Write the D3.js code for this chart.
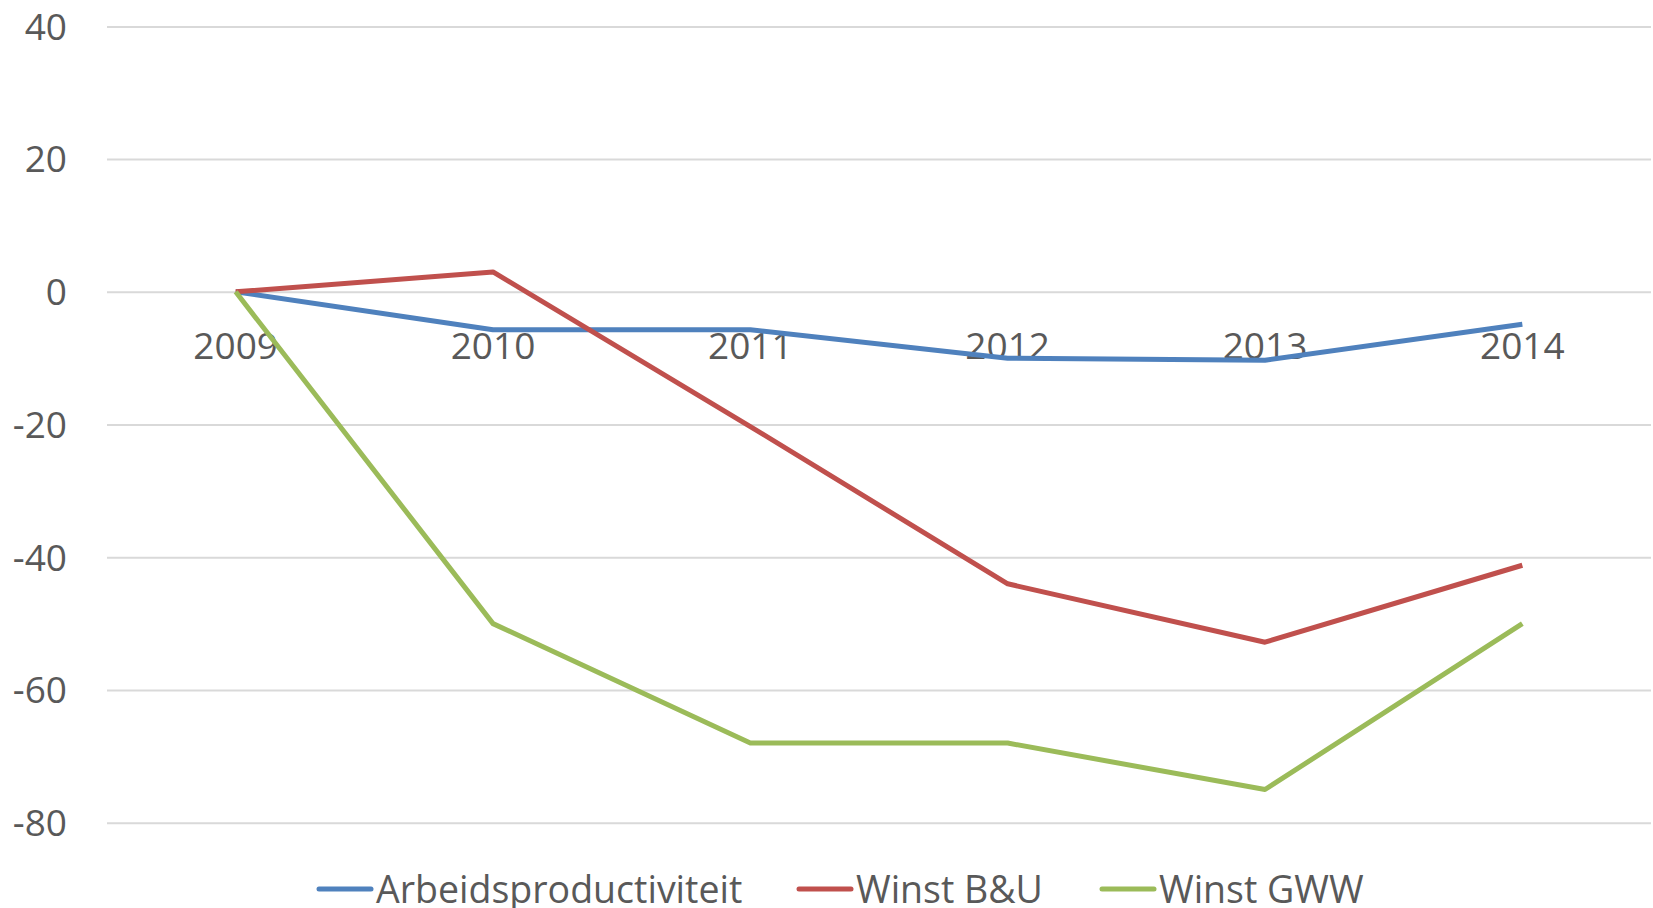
<!DOCTYPE html>
<html>
<head>
  <meta charset="utf-8">
  <title>Arbeidsproductiviteit en winst</title>
  <script src="https://d3js.org/d3.v7.min.js"></script>
  <style>
    body { margin: 0; background: #fff; }
    svg text { font-family: "Open Sans", "Liberation Sans", sans-serif; fill: #595959; }
    .grid line { stroke: #d9d9d9; stroke-width: 2px; }
    .grid path { display: none; }
    .line { fill: none; stroke-width: 5px; stroke-linejoin: round; }
  </style>
</head>
<body>
  <svg width="1653" height="908"></svg>
  <script>
    var years = ["2009", "2010", "2011", "2012", "2013", "2014"];
    var arbeid = [0, -5.7, -5.7, -10.0, -10.3, -4.9];
    var winstBU = [0, 3.0, -20.3, -44.0, -52.8, -41.2];
    var winstGWW = [0, -50.0, -68.0, -68.0, -75.0, -50.0];
    var yTicks = [-80, -60, -40, -20, 0, 20, 40];

    var series = [
      { name: "Arbeidsproductiviteit", values: arbeid, color: "#4f81bd" },
      { name: "Winst B&U", values: winstBU, color: "#c0504d" },
      { name: "Winst GWW", values: winstGWW, color: "#9bbb59" }
    ];

    var svg = d3.select("svg");
    var plotLeft = 107, plotRight = 1651, plotTop = 26.4, plotBottom = 822.7;

    var x = d3.scaleBand().domain(years).range([plotLeft, plotRight]);
    var y = d3.scaleLinear().domain([-80, 40]).range([plotBottom, plotTop]);

    // gridlines
    svg.append("g")
      .attr("class", "grid")
      .attr("transform", "translate(" + plotLeft + ",0)")
      .call(d3.axisLeft(y).tickValues(yTicks).tickSize(-(plotRight - plotLeft)).tickFormat(""));

    // y labels
    svg.append("g").selectAll("text")
      .data(yTicks)
      .enter().append("text")
      .attr("x", 67)
      .attr("y", d => y(d))
      .attr("dy", "0.36em")
      .attr("text-anchor", "end")
      .style("font-size", "37px")
      .text(d => d);

    // x labels sit under the zero line
    svg.append("g").selectAll("text")
      .data(years)
      .enter().append("text")
      .attr("x", d => x(d) + x.bandwidth() / 2)
      .attr("y", y(0) + 67)
      .attr("text-anchor", "middle")
      .style("font-size", "37px")
      .text(d => d);

    var line = d3.line()
      .x((d, i) => x(years[i]) + x.bandwidth() / 2)
      .y(d => y(d));

    svg.append("g").selectAll("path")
      .data(series)
      .enter().append("path")
      .attr("class", "line")
      .attr("stroke", d => d.color)
      .attr("d", d => line(d.values));

    // legend
    var legendX = [319, 799, 1102];
    var lg = svg.append("g").selectAll("g")
      .data(series)
      .enter().append("g")
      .attr("transform", (d, i) => "translate(" + legendX[i] + ",889)");
    lg.append("line")
      .attr("x1", 0).attr("x2", 52)
      .attr("stroke", d => d.color)
      .attr("stroke-width", 5)
      .attr("stroke-linecap", "round");
    lg.append("text")
      .attr("x", 57)
      .attr("dy", "0.36em")
      .style("font-size", "37.5px")
      .text(d => d.name);
  </script>
</body>
</html>
